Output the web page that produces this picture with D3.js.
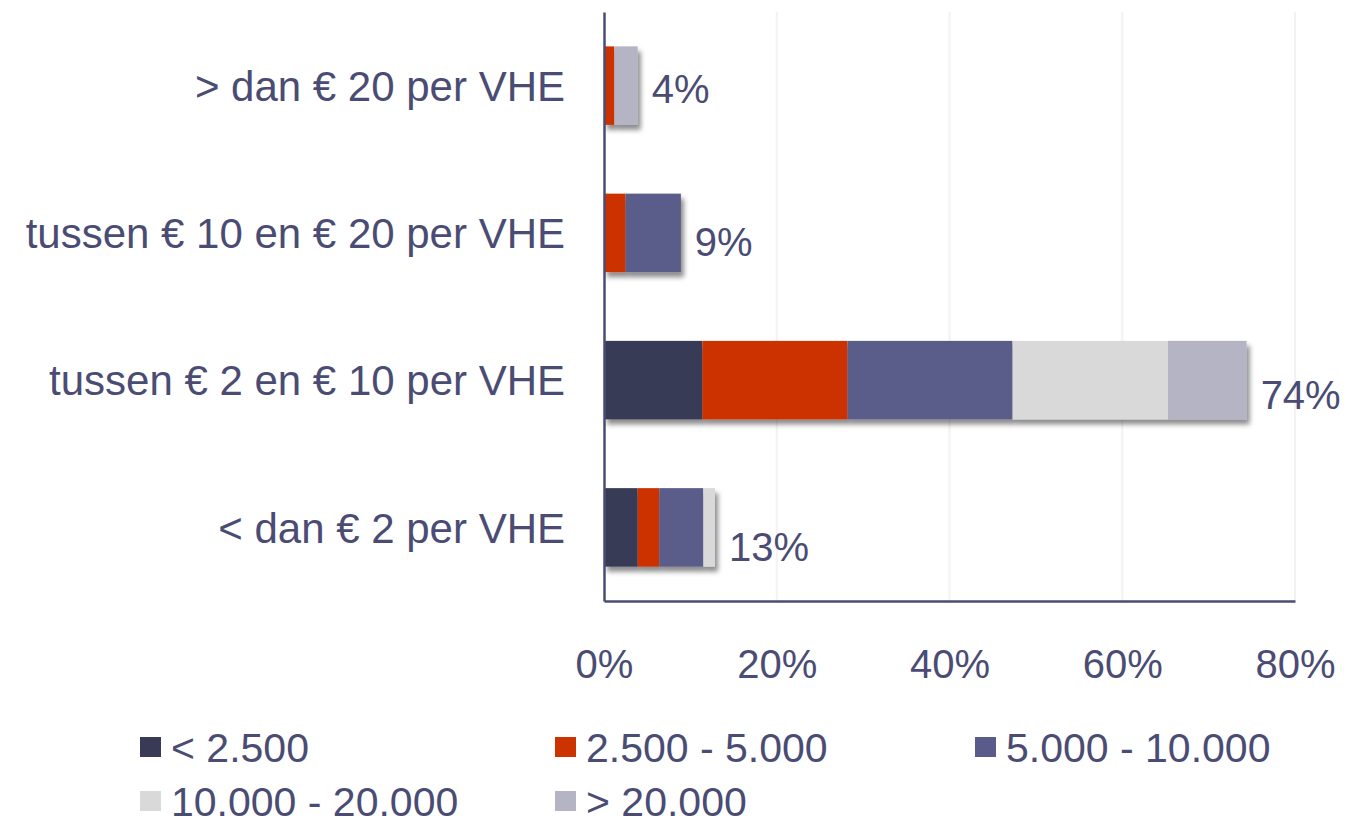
<!DOCTYPE html>
<html>
<head>
<meta charset="utf-8">
<script src="https://cdn.jsdelivr.net/npm/d3@7"></script>
<style>
  body { margin: 0; background: #fff; }
  text { font-family: "Liberation Sans", Arial, sans-serif; fill: #4a4c74; }
</style>
</head>
<body>
<script>
// Categories (top to bottom) and series names
var categories = ["> dan € 20 per VHE", "tussen € 10 en € 20 per VHE", "tussen € 2 en € 10 per VHE", "< dan € 2 per VHE"];
var seriesNames = ["< 2.500", "2.500 - 5.000", "5.000 - 10.000", "10.000 - 20.000", "> 20.000"];

// Share of all answers (%) per series, one value per category
var below2500 = [0, 0, 11.4, 3.9];
var from2500to5000 = [1.2, 2.5, 16.8, 2.5];
var from5000to10000 = [0, 6.4, 19.1, 5.1];
var from10000to20000 = [0, 0, 18.0, 1.35];
var above20000 = [2.7, 0, 9.1, 0];

// Total labels next to each bar and axis ticks
var totalLabels = ["4%", "9%", "74%", "13%"];
var tickValues = [0, 20, 40, 60, 80];

var colors = ["#393a56", "#cc3300", "#5a5b8a", "#d9d9d9", "#b4b4c4"];

var w = 1353;
var h = 826;

var svg = d3.select("body")
            .append("svg")
            .attr("width", w)
            .attr("height", h);

// Soft drop shadow under the bars
var defs = svg.append("defs");
defs.append("filter")
    .attr("id", "shadow")
    .attr("x", "-10%").attr("y", "-20%")
    .attr("width", "130%").attr("height", "150%")
    .append("feDropShadow")
    .attr("dx", 3)
    .attr("dy", 5)
    .attr("stdDeviation", 2.5)
    .attr("flood-color", "#000")
    .attr("flood-opacity", 0.45);

var xscale = d3.scaleLinear()
                .domain([0, 80])
                .range([604, 1295]);

var yscale = d3.scaleBand()
                .domain(categories)
                .range([12, 601])
                .paddingInner(0.467)
                .paddingOuter(0.2335);

// Build rows for d3.stack
var seriesArrays = [below2500, from2500to5000, from5000to10000, from10000to20000, above20000];
var rows = categories.map(function(c, i) {
    var row = { category: c };
    seriesNames.forEach(function(s, j) { row[s] = seriesArrays[j][i]; });
    return row;
});
var stacked = d3.stack().keys(seriesNames)(rows);

// Faint vertical gridlines
svg.append("g")
    .selectAll("line")
    .data(tickValues.slice(1))
    .enter()
    .append("line")
    .attr("x1", function(d) { return xscale(d); })
    .attr("x2", function(d) { return xscale(d); })
    .attr("y1", 12)
    .attr("y2", 601)
    .attr("stroke", "#f2f2f2")
    .attr("stroke-width", 2);

// One group per category so the shadow covers the whole bar
var barGroups = svg.append("g")
    .selectAll("g")
    .data(rows)
    .enter()
    .append("g")
    .attr("filter", "url(#shadow)");

barGroups.selectAll("rect")
    .data(function(d, i) {
        return stacked.map(function(layer, j) {
            return { x0: layer[i][0], x1: layer[i][1], color: colors[j], category: d.category };
        }).filter(function(s) { return s.x1 > s.x0; });
    })
    .enter()
    .append("rect")
    .attr("x", function(d) { return xscale(d.x0); })
    .attr("y", function(d) { return yscale(d.category); })
    .attr("width", function(d) { return xscale(d.x1) - xscale(d.x0); })
    .attr("height", yscale.bandwidth())
    .attr("fill", function(d) { return d.color; });

// Total labels to the right of each bar (they sit a bit lower further down)
svg.append("g")
    .selectAll("text")
    .data(rows)
    .enter()
    .append("text")
    .text(function(d, i) { return totalLabels[i]; })
    .attr("x", function(d) {
        var total = d3.sum(seriesNames, function(s) { return d[s]; });
        return xscale(total) + 14;
    })
    .attr("y", function(d, i) { return yscale(d.category) + yscale.bandwidth() / 2 + 3 + i * 5.5; })
    .attr("dy", "0.36em")
    .attr("font-size", 40);

// Bottom axis with percent labels
var xAxis = svg.append("g")
    .attr("transform", "translate(0,601)")
    .call(d3.axisBottom(xscale)
        .tickValues(tickValues)
        .tickFormat(function(d) { return d + "%"; })
        .tickSize(0)
        .tickPadding(49));
xAxis.select(".domain").attr("stroke", "#4a4c72").attr("stroke-width", 2.5);
xAxis.selectAll("text")
    .attr("font-size", 40)
    .attr("fill", "#4a4c74")
    .style("font-family", "'Liberation Sans', Arial, sans-serif");

// Left axis with category labels
var yAxis = svg.append("g")
    .attr("transform", "translate(604,0)")
    .call(d3.axisLeft(yscale).tickSize(0).tickPadding(39));
yAxis.select(".domain").attr("stroke", "#4a4c72").attr("stroke-width", 2.5);
yAxis.selectAll("text")
    .attr("font-size", 42)
    .attr("dy", "0.36em")
    .attr("fill", "#4a4c74")
    .style("font-family", "'Liberation Sans', Arial, sans-serif");

// Legend in two rows
var legendX = [140, 555, 975];
var legendY = [747, 801];
var legend = svg.append("g")
    .selectAll("g")
    .data(seriesNames)
    .enter()
    .append("g")
    .attr("transform", function(d, i) {
        return "translate(" + legendX[i % 3] + "," + legendY[Math.floor(i / 3)] + ")";
    });

legend.append("rect")
    .attr("x", 0)
    .attr("y", -10)
    .attr("width", 21)
    .attr("height", 20)
    .attr("fill", function(d, i) { return colors[i]; });

legend.append("text")
    .text(function(d) { return d; })
    .attr("x", 31)
    .attr("y", 0)
    .attr("dy", "0.36em")
    .attr("font-size", 41);
</script>
</body>
</html>
